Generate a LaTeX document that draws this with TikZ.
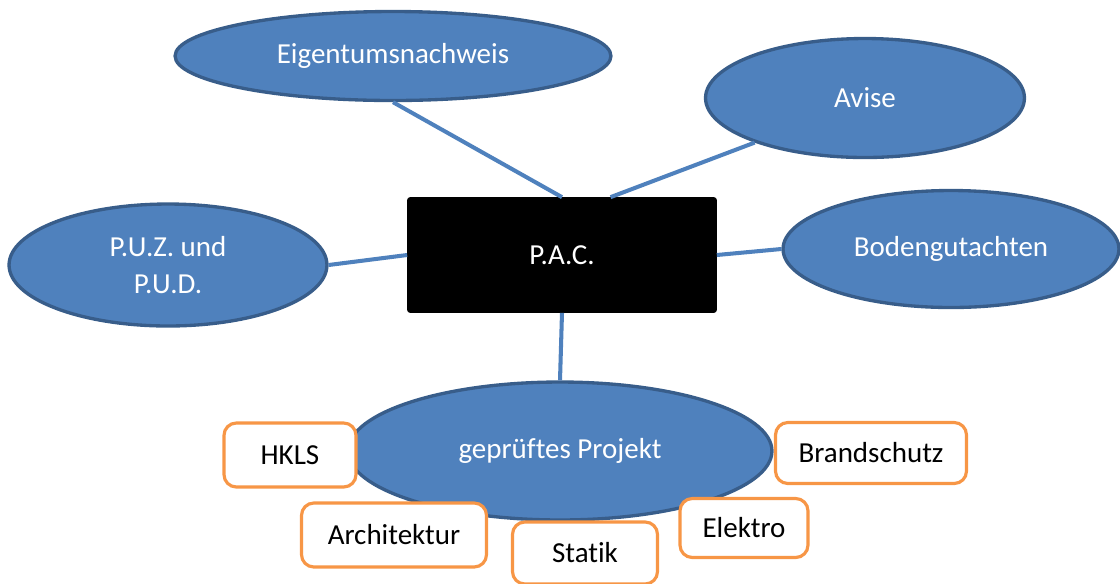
\documentclass[tikz,border=0pt]{standalone}
\usepackage{fontspec}
\setmainfont{Carlito}[Ligatures=NoCommon]
\usetikzlibrary{shapes.geometric}
\definecolor{mapFill}{HTML}{4F81BD}
\definecolor{mapEdge}{HTML}{385D8A}
\definecolor{mapLink}{HTML}{4F81BD}
\definecolor{mapOrange}{HTML}{F79646}
\begin{document}
\begin{tikzpicture}[x=0.02cm, y=-0.02cm,
        font=\fontsize{16.5}{21.5}\selectfont,
        bubble/.style={ellipse, draw=mapEdge, line width=1.9pt, fill=mapFill, text=white, align=center, inner sep=0pt},
        core/.style={draw=black, fill=black, rounded corners=1.5pt, text=white, minimum width=6.18cm, minimum height=2.3cm},
        part/.style={draw=mapOrange, line width=1.8pt, fill=white, rounded corners=7pt, text=black, inner sep=0pt},
        link/.style={mapLink, line width=2.3pt}]
        \useasboundingbox (0,0) rectangle (1120,583);
        \node[core] (pac) at (562,255) {P.A.C.};
        \node[bubble, minimum width=8.72cm, minimum height=1.78cm] (eig) at (393,56) {Eigentumsnachweis};
        \node[bubble, minimum width=6.38cm, minimum height=2.38cm] (avi) at (865,98) {Avise};
        \node[bubble, minimum width=6.36cm, minimum height=2.44cm] (puz) at (168,265) {P.U.Z. und\\P.U.D.};
        \node[bubble, minimum width=6.72cm, minimum height=2.34cm] (bod) at (951,249) {Bodengutachten};
        \node[bubble, minimum width=8.48cm, minimum height=2.76cm] (prj) at (560,451) {geprüftes Projekt};
        \draw[link] (eig.south) -- (pac.north);
        \draw[link] (avi.202) -- (pac.50);
        \draw[link] (puz.east) -- (pac.west);
        \draw[link] (bod.west) -- (pac.east);
        \draw[link] (pac.south) -- (prj.north);
        \node[part, minimum width=2.64cm, minimum height=1.28cm] (hkl) at (290,455) {HKLS};
        \node[part, minimum width=3.82cm, minimum height=1.22cm] (bra) at (871,453) {Brandschutz};
        \node[part, minimum width=3.7cm, minimum height=1.28cm] (arc) at (394,535) {Architektur};
        \node[part, minimum width=2.9cm, minimum height=1.24cm] (sta) at (585,553) {Statik};
        \node[part, minimum width=2.56cm, minimum height=1.18cm] (ele) at (744,528) {Elektro};
      \end{tikzpicture}
\end{document}
